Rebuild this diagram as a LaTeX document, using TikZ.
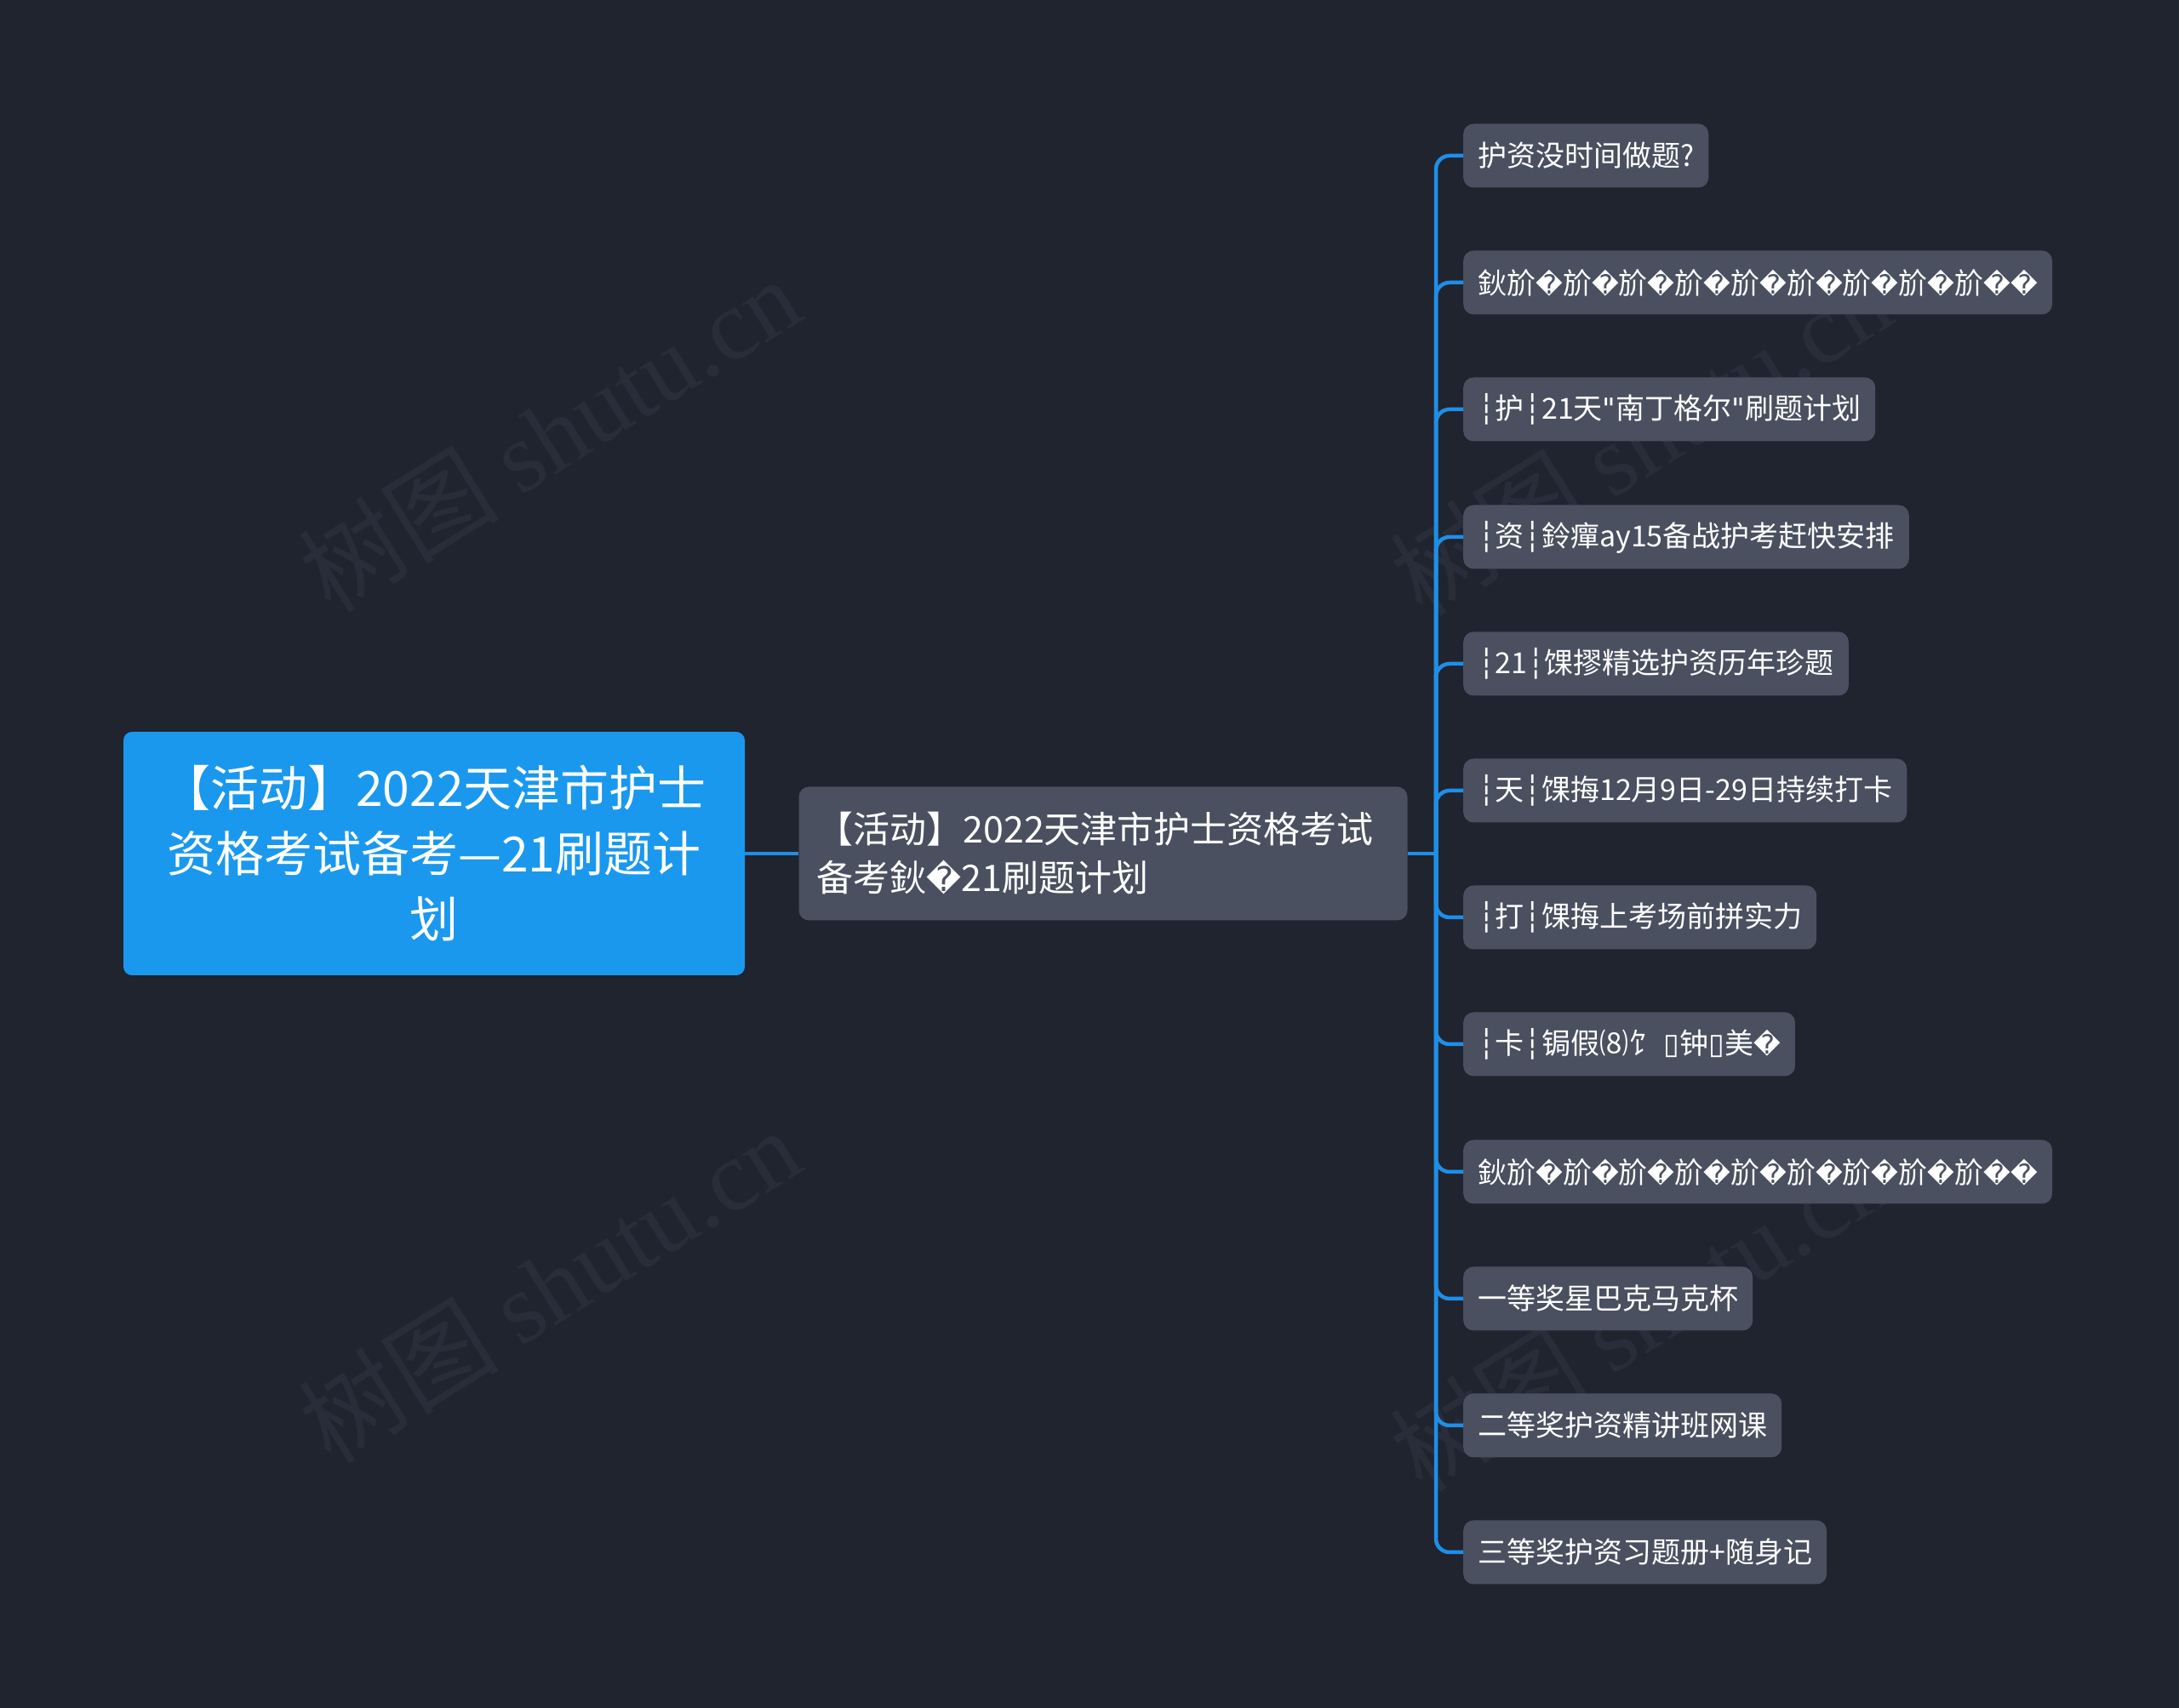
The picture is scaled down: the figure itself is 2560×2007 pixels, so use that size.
\documentclass[tikz,border=0pt]{standalone}
\usepackage{fontspec}
\setmainfont{Noto Sans CJK SC}
\newfontfamily\djv{DejaVu Sans}
\newfontfamily\wmserif{Liberation Serif}
\usetikzlibrary{positioning}
\definecolor{bgnavy}{HTML}{20242F}
\definecolor{rootblue}{HTML}{1A98EE}
\definecolor{topicgrey}{HTML}{4A5060}
\definecolor{linkblue}{HTML}{1E8FE8}
\definecolor{markgrey}{HTML}{282D39}
\newcommand{\repchar}{{\djv\fontsize{31}{40}\selectfont\char"FFFD}}
\newcommand{\repcharbig}{{\djv\char"FFFD}}
\newcommand{\dashbar}{{\djv\char"2506}}
\newcommand{\tofubox}{{\djv\char"25AF}}
\newcommand{\straightq}{{\djv\char34}}

\begin{document}
\begin{tikzpicture}[x=1pt,y=1pt,
  rootbox/.style={fill=rootblue, rounded corners=10pt, text=white, minimum width=730pt,
    minimum height=286pt, text width=700pt, align=center, inner sep=0pt,
    font=\fontsize{57}{77}\selectfont},
  midbox/.style={fill=topicgrey, rounded corners=12pt, text=white, minimum width=715pt,
    minimum height=157pt, text width=673pt, align=left, inner xsep=21pt,
    font=\fontsize{43}{57}\selectfont},
  leafbox/.style={fill=topicgrey, rounded corners=12pt, text=white, anchor=west,
    minimum height=75pt, inner xsep=17pt, font=\fontsize{34}{40}\selectfont},
  link/.style={draw=linkblue, line width=4.5pt},
  wmark/.style={text=markgrey, rotate=32, font=\fontsize{118}{118}\selectfont}]
\useasboundingbox (0,0) rectangle (2560,2007);
\fill[bgnavy] (0,0) rectangle (2560,2007);

% Watermarks
\node[wmark] (wm1) at (645,1497) {树图 {\wmserif shutu.cn}};
\node[wmark] (wm2) at (645,497) {树图 {\wmserif shutu.cn}};
\node[wmark] (wm3) at (1927,1493) {树图 {\wmserif shutu.cn}};
\node[wmark] (wm4) at (1927,464) {树图 {\wmserif shutu.cn}};

% Root and main topic
\node[rootbox] (root) at (510,1004) {【活动】2022天津市护士\\资格考试备考—21刷题计\\划};
\node[midbox] (mid) at (1296,1004) {【活动】2022天津市护士资格考试\\备考鈥{\djv\fontsize{40}{57}\selectfont\char"FFFD}21刷题计划};
\coordinate (hub) at (1687,1004);

% Leaves
\node[leafbox] (c1) at (1719,1824) {护资没时间做题?};
\node[leafbox] (c2) at (1719,1675) {鈥斺\repchar 斺\repchar 斺\repchar 斺\repchar 斺\repchar 斺\repchar 斺\repchar 斺\repchar 斺\repchar\repchar};
\node[leafbox] (c3) at (1719,1526) {\dashbar 护\dashbar 21天\straightq 南丁格尔\straightq 刷题计划};
\node[leafbox] (c4) at (1719,1376) {\dashbar 资\dashbar 鈴癉ay15备战护考赶快安排};
\node[leafbox] (c5) at (1719,1227) {\dashbar 21\dashbar 馃摎精选护资历年珍题};
\node[leafbox] (c6) at (1719,1078) {\dashbar 天\dashbar 馃挴12月9日-29日持续打卡};
\node[leafbox] (c7) at (1719,929) {\dashbar 打\dashbar 馃挴上考场前拼实力};
\node[leafbox] (c8) at (1719,780) {\dashbar 卡\dashbar 锔假⑻饣 \tofubox 钟\tofubox 美\repchar};
\node[leafbox] (c9) at (1719,630) {鈥斺\repchar 斺\repchar 斺\repchar 斺\repchar 斺\repchar 斺\repchar 斺\repchar 斺\repchar 斺\repchar\repchar};
\node[leafbox] (c10) at (1719,481) {一等奖星巴克马克杯};
\node[leafbox] (c11) at (1719,332) {二等奖护资精讲班网课};
\node[leafbox] (c12) at (1719,183) {三等奖护资习题册+随身记};

% Connectors
\draw[link] (root.east) -- (mid.west);
\draw[link] (mid.east) -- (hub);
\foreach \i in {1,...,12} {
    \draw[link, rounded corners=16pt] (hub) |- (c\i.west);
}

\end{tikzpicture}
\end{document}
